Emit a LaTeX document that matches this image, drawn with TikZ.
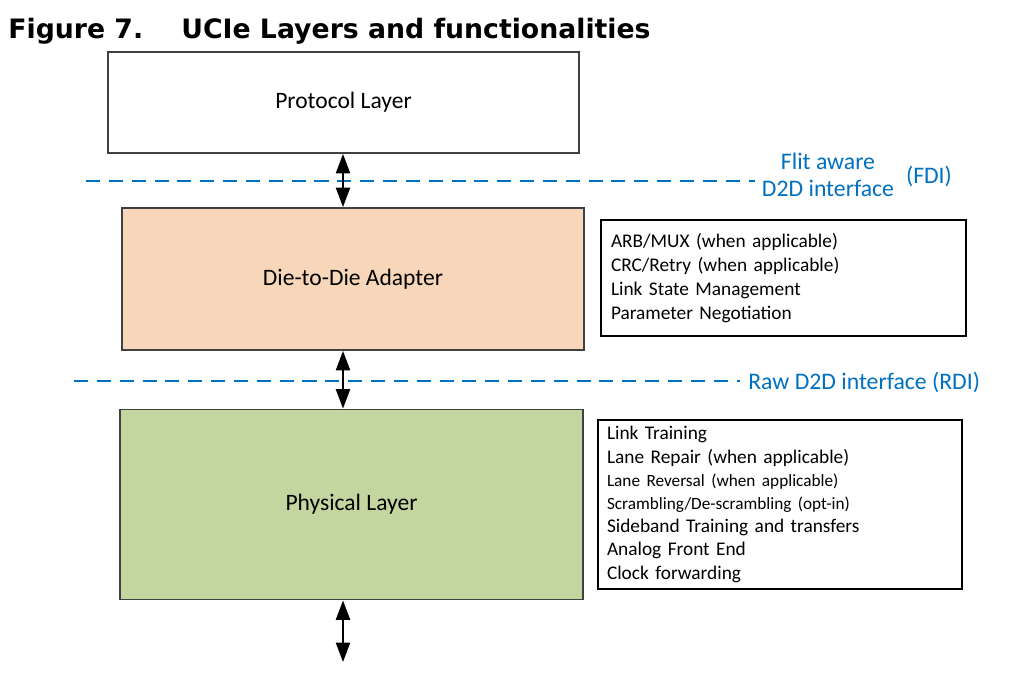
\documentclass[tikz,border=0pt]{standalone}
\usepackage{fontspec}
\setmainfont{Carlito}
\newfontfamily\titlefont{DejaVu Sans}
\usepackage{xcolor}
\usetikzlibrary{calc, arrows.meta}

\definecolor{fdiblue}{HTML}{0070C0}
\definecolor{ddapeach}{HTML}{F8D6BA}
\definecolor{phygreen}{HTML}{C4D6A0}
\definecolor{boxgray}{HTML}{404040}

\tikzset{
	layer/.style = {draw = boxgray, line width = 1.1pt, font = \fontsize{13.4}{16}\selectfont},
	funclist/.style = {draw, line width = 0.8pt, align = left, inner xsep = 0.2cm},
	iface/.style = {fdiblue, line width = 1.6pt, dash pattern = on 8pt off 5pt},
	ifacelabel/.style = {fdiblue, font = \fontsize{13.5}{15.3}\selectfont, inner sep = 0pt},
	biarrow/.style = {line width = 1.1pt, {Triangle[width=8pt, length=11pt]}-{Triangle[width=8pt, length=11pt]}}
}

\begin{document}
\begin{tikzpicture}
			\useasboundingbox (0,0) rectangle (20.48,-13.64);
			\def\ax{6.86};
			
			% title
			\node [anchor = base west, inner sep = 0pt, font = \titlefont\bfseries\fontsize{15.2}{18}\selectfont] (fignum) at (0.16,-0.76) {Figure 7.};
			\node [anchor = base west, inner sep = 0pt, font = \titlefont\bfseries\fontsize{15.2}{18}\selectfont] (title) at (3.62,-0.76) {UCIe Layers and functionalities};
			
			% layers
			\node [layer, fill = white, minimum width = 9.42cm, minimum height = 2.02cm] (proto) at (6.87,-2.05) {Protocol Layer};
			\node [layer, fill = ddapeach, minimum width = 9.24cm, minimum height = 2.84cm] (dda) at (7.06,-5.58) {Die-to-Die Adapter};
			\node [layer, fill = phygreen, minimum width = 9.26cm, minimum height = 3.8cm] (phy) at (7.03,-10.09) {Physical Layer};
			
			% functions
			\node [funclist, minimum width = 7.3cm, minimum height = 2.32cm, text width = 6.9cm, font = \fontsize{11}{13.6}\selectfont] (ddafunc) at (15.67,-5.56) {
				ARB/MUX (when applicable)\\
				CRC/Retry (when applicable)\\
				Link State Management\\
				Parameter Negotiation};
			\node [funclist, inner xsep = 0.18cm, minimum width = 7.28cm, minimum height = 3.38cm, text width = 6.92cm, font = \fontsize{11}{13.2}\selectfont] (phyfunc) at (15.6,-10.09) {
				Link Training\\
				Lane Repair (when applicable)\\
				{\fontsize{9.8}{13.2}\selectfont Lane Reversal (when applicable)}\\
				{\fontsize{9.8}{13.2}\selectfont Scrambling/De-scrambling (opt-in)}\\
				Sideband Training and transfers\\
				Analog Front End\\
				Clock forwarding};
			
			% interfaces
			\coordinate (fdiL) at (1.72,-3.62);
			\coordinate (fdiR) at (15.1,-3.62);
			\coordinate (rdiL) at (1.48,-7.62);
			\coordinate (rdiR) at (14.8,-7.62);
			\draw [iface] (fdiL) -- (fdiR);
			\draw [iface] (rdiL) -- (rdiR);
			\node [ifacelabel, align = center] (fdi) at (16.56,-3.5) {Flit aware\\D2D interface};
			\node [ifacelabel] (fdiabbr) at (18.58,-3.52) {(FDI)};
			\node [ifacelabel, anchor = west] (rdi) at (14.96,-7.64) {Raw D2D interface (RDI)};
			
			% connections
			\coordinate (pin) at (\ax,-13.24);
			\draw [biarrow] (proto.south -| \ax,0) -- (dda.north -| \ax,0);
			\draw [biarrow] (dda.south -| \ax,0) -- (phy.north -| \ax,0);
			\draw [biarrow] (phy.south -| \ax,0) -- (pin);
		\end{tikzpicture}
\end{document}
